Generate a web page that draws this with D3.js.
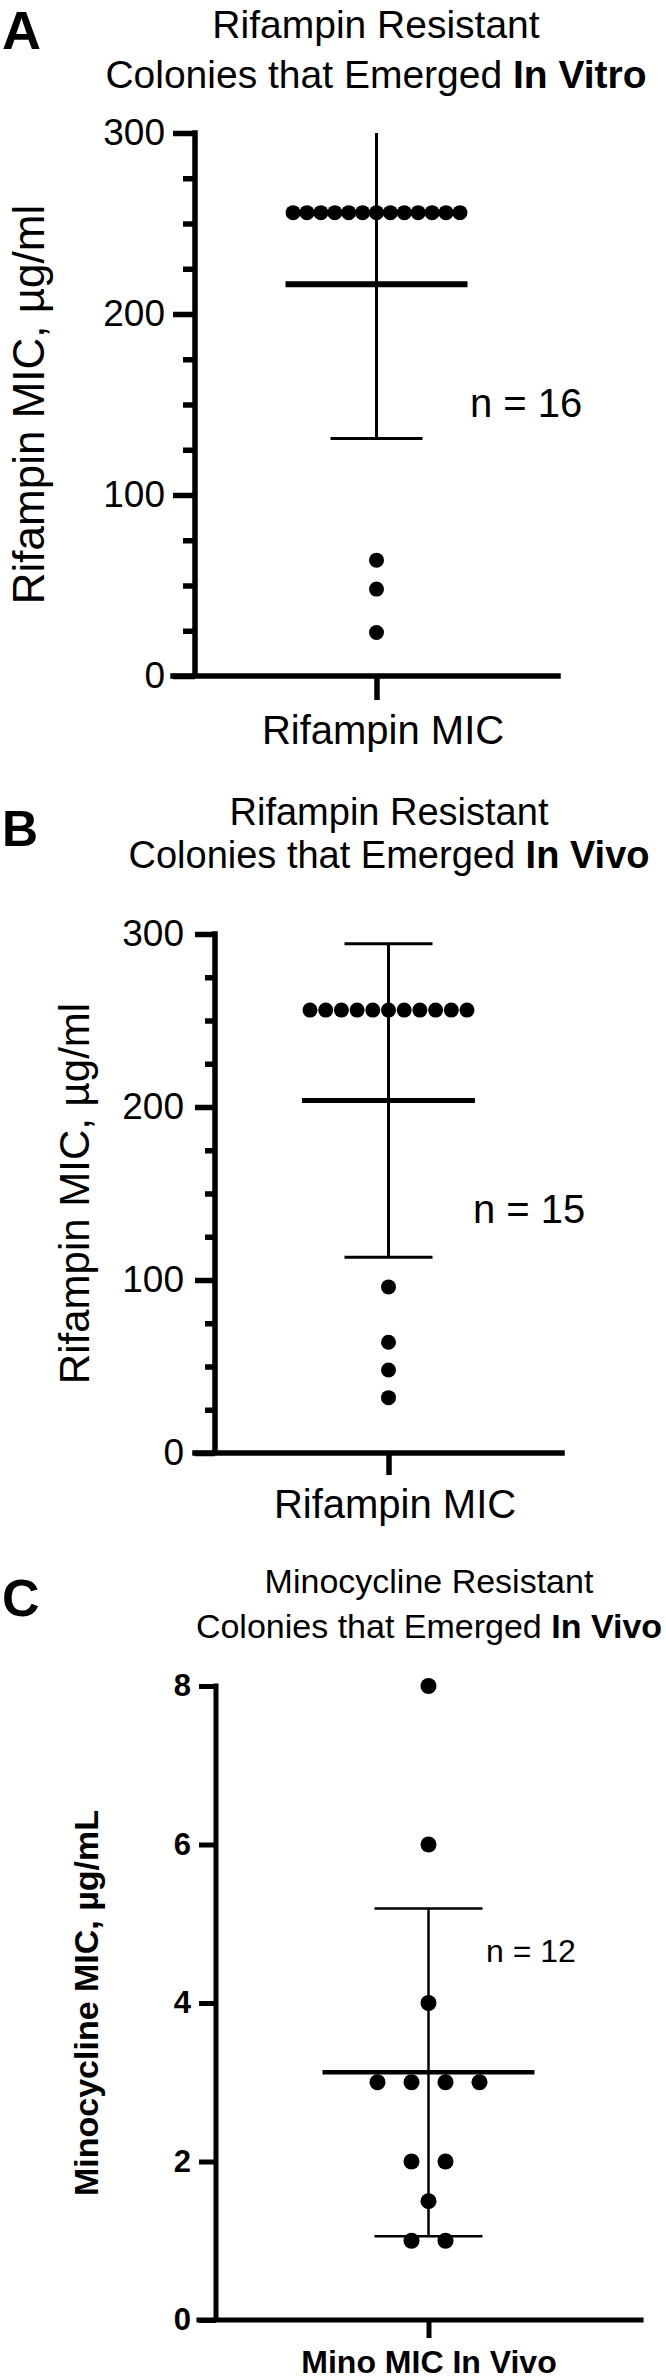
<!DOCTYPE html>
<html>
<head>
<meta charset="utf-8">
<script src="https://cdn.jsdelivr.net/npm/d3@7"></script>
<style>
  html, body { margin: 0; padding: 0; background: #fff; }
  svg { display: block; font-family: 'Liberation Sans', Arial, Helvetica, sans-serif; }
</style>
</head>
<body>
<svg id="chart" width="666" height="2379"></svg>
<script>
'use strict';

// ---- data ----
const panelLetters = ['A', 'B', 'C'];
const titleTop = ['Rifampin Resistant', 'Rifampin Resistant', 'Minocycline Resistant'];
const titleBottom = ['Colonies that Emerged ', 'Colonies that Emerged ', 'Colonies that Emerged '];
const titleBold = ['In Vitro', 'In Vivo', 'In Vivo'];
const yTitles = ['Rifampin MIC, µg/ml', 'Rifampin MIC, µg/ml', 'Minocycline MIC, µg/mL'];
const groupNames = ['Rifampin MIC', 'Rifampin MIC', 'Mino MIC In Vivo'];
const nLabels = ['n = 16', 'n = 15', 'n = 12'];

const rifTicks = [0, 100, 200, 300];
const rifMinorTicks = [25, 50, 75, 125, 150, 175, 225, 250, 275];
const minoTicks = [0, 2, 4, 6, 8];

// MIC values (µg/ml)
const rifInVitro = [256, 256, 256, 256, 256, 256, 256, 256, 256, 256, 256, 256, 256, 64, 48, 24];
const rifInVivo = [256, 256, 256, 256, 256, 256, 256, 256, 256, 256, 256, 96, 64, 48, 32];
const minoInVivo = [8, 6, 4, 3, 3, 3, 3, 2, 2, 1.5, 1, 1];

// ---- layout of each panel (pixels) ----
const panels = [
  {
    values: rifInVitro, yMax: 300, ticks: rifTicks, minor: rifMinorTicks,
    left: 195, right: 558, top: 133, bottom: 676,
    axisW: 5.5, tickLen: 22, minorLen: 12, tickPad: 8, tickFont: 37, tickBold: false,
    xTickLen: 24, xPad: 16, xFont: 40, xBold: false, xDx: 6,
    dotR: 7.5, dotGap: 13.9, meanHalf: 91, meanW: 6, capHalf: 46, errW: 3,
    letterY: 49, letterSize: 54, titleX: 376, titleY: [38, 88], titleSize: 39,
    yTitleX: 44, yTitleSize: 44, yTitleBold: false,
    nX: 470, nY: 417, nSize: 40,
  },
  {
    values: rifInVivo, yMax: 300, ticks: rifTicks, minor: rifMinorTicks,
    left: 215, right: 562, top: 934, bottom: 1453,
    axisW: 5.5, tickLen: 20, minorLen: 10, tickPad: 11, tickFont: 37, tickBold: false,
    xTickLen: 22, xPad: 15, xFont: 40, xBold: false, xDx: 6,
    dotR: 7.5, dotGap: 15.7, meanHalf: 86.5, meanW: 5, capHalf: 44, errW: 3,
    letterY: 846, letterSize: 50, titleX: 389, titleY: [825, 868], titleSize: 38,
    yTitleX: 89, yTitleSize: 42, yTitleBold: false,
    nX: 473, nY: 1223, nSize: 40,
  },
  {
    values: minoInVivo, yMax: 8, ticks: minoTicks, minor: [],
    left: 216, right: 641, top: 1686, bottom: 2320,
    axisW: 5, tickLen: 17, minorLen: 0, tickPad: 8, tickFont: 31, tickBold: true,
    xTickLen: 18, xPad: 12, xFont: 32, xBold: true, xDx: 0,
    dotR: 8, dotGap: 34, meanHalf: 106, meanW: 4.5, capHalf: 54, errW: 2.5,
    letterY: 1616, letterSize: 52, titleX: 429, titleY: [1593, 1638], titleSize: 34,
    yTitleX: 98, yTitleSize: 34, yTitleBold: true,
    nX: 486, nY: 1962, nSize: 32,
  },
];

const svg = d3.select('#chart');

panels.forEach(function(p, i) {
  drawPanel(p, i);
});

/**
 * Draw one scatter-dot panel with mean and SD
 * @param {Object} p - panel layout
 * @param {number} i - panel index into the text arrays
 */
function drawPanel(p, i) {
  const g = svg.append('g').attr('class', 'panel panel-' + i);

  const y = d3.scaleLinear().domain([0, p.yMax]).range([p.bottom, p.top]);
  const x = d3
    .scalePoint()
    .domain([groupNames[i]])
    .range([p.left, p.right])
    .padding(0.5);
  const cx = x(groupNames[i]);

  // panel letter
  g.append('text')
    .attr('x', 2)
    .attr('y', p.letterY)
    .attr('font-size', p.letterSize)
    .attr('font-weight', 'bold')
    .text(panelLetters[i]);

  // title, two lines, last words bold
  const title = g
    .append('text')
    .attr('text-anchor', 'middle')
    .attr('font-size', p.titleSize);
  title
    .append('tspan')
    .attr('x', p.titleX)
    .attr('y', p.titleY[0])
    .text(titleTop[i]);
  const line2 = title
    .append('tspan')
    .attr('x', p.titleX)
    .attr('y', p.titleY[1]);
  line2.append('tspan').text(titleBottom[i]);
  line2
    .append('tspan')
    .attr('font-weight', 'bold')
    .text(titleBold[i]);

  // y axis title
  g.append('text')
    .attr(
      'transform',
      'translate(' + p.yTitleX + ',' + (p.top + p.bottom) / 2 + ') rotate(-90)'
    )
    .attr('text-anchor', 'middle')
    .attr('font-size', p.yTitleSize)
    .attr('font-weight', p.yTitleBold ? 'bold' : 'normal')
    .text(yTitles[i]);

  // major ticks + labels
  const yAxis = g
    .append('g')
    .attr('transform', 'translate(' + p.left + ',0)')
    .call(
      d3
        .axisLeft(y)
        .tickValues(p.ticks)
        .tickSize(p.tickLen)
        .tickSizeOuter(0)
        .tickPadding(p.tickPad)
        .tickFormat(d3.format('d'))
    );
  yAxis.select('.domain').remove();
  yAxis
    .selectAll('line')
    .attr('stroke', '#000')
    .attr('stroke-width', p.axisW);
  yAxis
    .selectAll('text')
    .attr('fill', '#000')
    .attr('font-size', p.tickFont)
    .attr('font-weight', p.tickBold ? 'bold' : 'normal')
    .attr('font-family', null);

  // minor ticks
  if (p.minor.length) {
    const minorAxis = g
      .append('g')
      .attr('transform', 'translate(' + p.left + ',0)')
      .call(
        d3
          .axisLeft(y)
          .tickValues(p.minor)
          .tickSize(p.minorLen)
          .tickSizeOuter(0)
          .tickFormat('')
      );
    minorAxis.select('.domain').remove();
    minorAxis
      .selectAll('line')
      .attr('stroke', '#000')
      .attr('stroke-width', p.axisW);
  }

  // x axis tick + category label
  const xAxis = g
    .append('g')
    .attr('transform', 'translate(0,' + p.bottom + ')')
    .call(
      d3
        .axisBottom(x)
        .tickSize(p.xTickLen)
        .tickSizeOuter(0)
        .tickPadding(p.xPad)
    );
  xAxis.select('.domain').remove();
  xAxis
    .selectAll('line')
    .attr('stroke', '#000')
    .attr('stroke-width', p.axisW);
  xAxis
    .selectAll('text')
    .attr('fill', '#000')
    .attr('dx', p.xDx)
    .attr('font-size', p.xFont)
    .attr('font-weight', p.xBold ? 'bold' : 'normal')
    .attr('font-family', null);

  // axis lines (L shape, x axis runs out to the 0 tick)
  const r = x.range();
  g.append('path')
    .attr(
      'd',
      'M' + (r[0] - p.tickLen) + ',' + y(0) + 'H' + r[1] +
        'M' + r[0] + ',' + y(0) + 'V' + y(p.yMax)
    )
    .attr('fill', 'none')
    .attr('stroke', '#000')
    .attr('stroke-width', p.axisW)
    .attr('stroke-linecap', 'square');

  // mean and SD
  const mean = d3.mean(p.values);
  const sd = d3.deviation(p.values);
  const upper = Math.min(mean + sd, p.yMax);
  const lower = Math.max(mean - sd, 0);

  const err = g.append('g').attr('stroke', '#000').attr('fill', 'none');
  err
    .append('line')
    .attr('x1', cx)
    .attr('x2', cx)
    .attr('y1', y(lower))
    .attr('y2', y(upper))
    .attr('stroke-width', p.errW);
  const caps = [lower];
  if (mean + sd <= p.yMax) caps.push(upper);
  err
    .selectAll('line.cap')
    .data(caps)
    .enter()
    .append('line')
    .attr('class', 'cap')
    .attr('x1', cx - p.capHalf)
    .attr('x2', cx + p.capHalf)
    .attr('y1', function(d) {
      return y(d);
    })
    .attr('y2', function(d) {
      return y(d);
    })
    .attr('stroke-width', p.errW);
  err
    .append('line')
    .attr('x1', cx - p.meanHalf)
    .attr('x2', cx + p.meanHalf)
    .attr('y1', y(mean))
    .attr('y2', y(mean))
    .attr('stroke-width', p.meanW);

  // dots, spread sideways when values repeat
  const dots = [];
  d3.group(p.values, function(d) {
    return d;
  }).forEach(function(vals, v) {
    vals.forEach(function(d, k) {
      dots.push({ value: v, off: (k - (vals.length - 1) / 2) * p.dotGap });
    });
  });
  g.selectAll('circle.dot')
    .data(dots)
    .enter()
    .append('circle')
    .attr('class', 'dot')
    .attr('cx', function(d) {
      return cx + d.off;
    })
    .attr('cy', function(d) {
      return y(d.value);
    })
    .attr('r', p.dotR)
    .attr('fill', '#000');

  // sample size
  g.append('text')
    .attr('x', p.nX)
    .attr('y', p.nY)
    .attr('font-size', p.nSize)
    .text(nLabels[i]);
}
</script>
</body>
</html>
